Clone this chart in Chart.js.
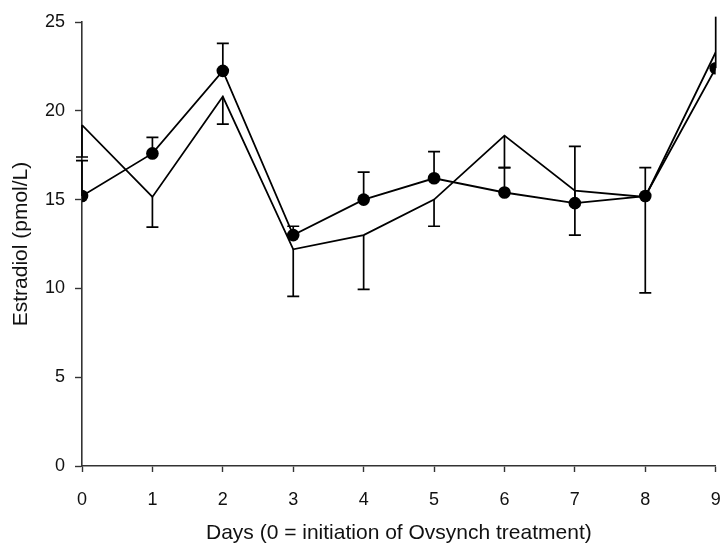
<!DOCTYPE html>
<html>
<head>
<meta charset="utf-8">
<script src="https://cdn.jsdelivr.net/npm/chart.js@4"></script>
<style>
  html, body { margin: 0; padding: 0; background: #fff; }
  #wrap { width: 722px; height: 546px; }
</style>
</head>
<body>
<div id="wrap"><canvas id="estradiolChart" width="722" height="546"></canvas></div>
<script>
// --- datos ---
const days = [0, 1, 2, 3, 4, 5, 6, 7, 8, 9];
const yTicks = [0, 5, 10, 15, 20, 25];

// serie con marcadores (círculos negros)
const dotValues = [15.2, 17.6, 22.25, 13.0, 15.0, 16.2, 15.4, 14.8, 15.2, 22.4];
const dotErrTop = [17.2, 18.5, 23.8, 13.5, 16.55, 17.7, 16.8, 18.0, 16.8, 25.3];

// serie sin marcadores (solo línea)
const lineValues = [19.2, 15.15, 20.8, 12.2, 13.0, 15.0, 18.6, 15.5, 15.15, 23.3];
const lineErrBottom = [17.4, 13.45, 19.25, 9.55, 9.95, 13.5, 16.8, 13.0, 9.75, null];

const toPoints = (vals) => days.map((d, i) => ({ x: d, y: vals[i] }));

// --- barras de error (dibujadas con las escalas del gráfico) ---
const errorBars = {
    id: 'errorBars',
    afterDatasetsDraw(chart) {
        const ctx = chart.ctx;
        const xs = chart.scales.x, ys = chart.scales.y;
        ctx.save();
        ctx.strokeStyle = '#000';
        ctx.lineWidth = 1.7;
        chart.data.datasets.forEach(ds => {
            const ends = ds.errEnds;
            if (!ends) return;
            ds.data.forEach((p, i) => {
                if (ends[i] == null) return;
                const px = xs.getPixelForValue(p.x);
                const py = ys.getPixelForValue(p.y);
                const pe = ys.getPixelForValue(ends[i]);
                ctx.beginPath();
                ctx.moveTo(px, py);
                ctx.lineTo(px, pe);
                if (ends[i] <= 25) {
                    ctx.moveTo(px - 6, pe);
                    ctx.lineTo(px + 6, pe);
                }
                ctx.stroke();
            });
        });
        ctx.restore();
    }
};

const noPad = (scale) => {
    scale.paddingLeft = 0;
    scale.paddingRight = 0;
    scale.paddingTop = 0;
    scale.paddingBottom = 0;
};

const tickFont = { family: '"Liberation Sans", Arial, sans-serif', size: 18 };
const titleFont = { family: '"Liberation Sans", Arial, sans-serif', size: 21 };

new Chart(document.getElementById('estradiolChart'), {
    type: 'line',
    data: {
        datasets: [
            {
                label: 'Sin marcador',
                data: toPoints(lineValues),
                borderColor: '#000',
                borderWidth: 1.8,
                pointRadius: 0,
                tension: 0,
                errEnds: lineErrBottom
            },
            {
                label: 'Con marcador',
                data: toPoints(dotValues),
                borderColor: '#000',
                backgroundColor: '#000',
                borderWidth: 1.8,
                pointRadius: 6.3,
                pointBackgroundColor: '#000',
                pointBorderWidth: 0,
                tension: 0,
                errEnds: dotErrTop
            }
        ]
    },
    options: {
        responsive: false,
        animation: false,
        layout: { padding: { top: 22, right: 2, left: 0, bottom: 0 } },
        plugins: { legend: { display: false }, tooltip: { enabled: false } },
        scales: {
            x: {
                type: 'linear',
                min: 0,
                max: 9,
                afterBuildTicks: (s) => { s.ticks = days.map(v => ({ value: v })); },
                afterFit: (s) => { s.height = 80; noPad(s); },
                border: { color: '#333', width: 1.6 },
                grid: { drawOnChartArea: false, tickLength: 6, tickColor: '#333', tickWidth: 1.4 },
                ticks: { color: '#111', font: tickFont, padding: 17, maxRotation: 0 },
                title: {
                    display: true,
                    text: 'Days (0 = initiation of Ovsynch treatment)',
                    color: '#111',
                    font: titleFont,
                    padding: { top: 6, bottom: 0 }
                }
            },
            y: {
                min: 0,
                max: 25,
                afterBuildTicks: (s) => { s.ticks = yTicks.map(v => ({ value: v })); },
                afterFit: (s) => { s.width = 82; noPad(s); },
                border: { color: '#333', width: 1.6 },
                grid: { drawOnChartArea: false, tickLength: 7, tickColor: '#333', tickWidth: 1.4 },
                ticks: { color: '#111', font: tickFont, padding: 10 },
                title: {
                    display: true,
                    text: 'Estradiol (pmol/L)',
                    color: '#111',
                    font: titleFont,
                    padding: { top: 9, bottom: 0 }
                }
            }
        }
    },
    plugins: [errorBars]
});
</script>
</body>
</html>
